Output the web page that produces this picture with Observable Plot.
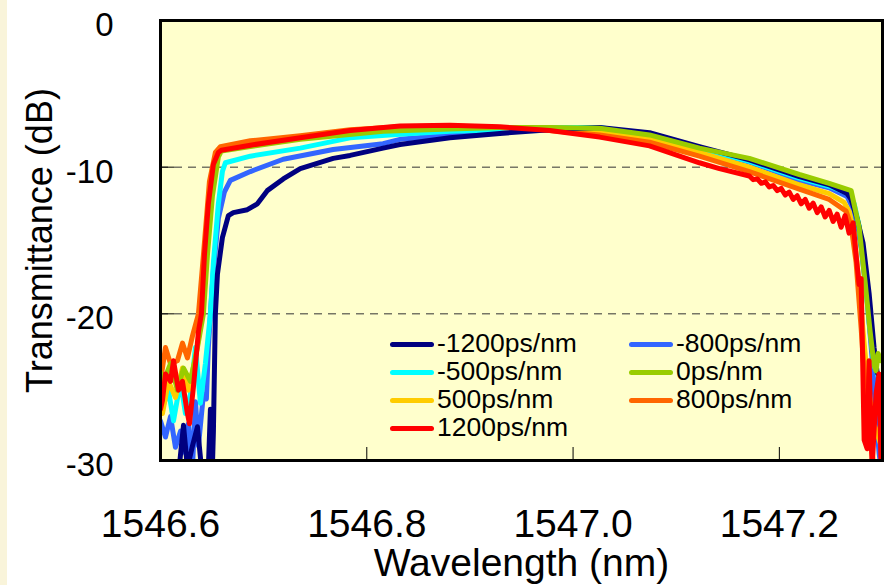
<!DOCTYPE html>
<html>
<head>
<meta charset="utf-8">
<script src="https://cdn.jsdelivr.net/npm/d3@7"></script>
<script src="https://cdn.jsdelivr.net/npm/@observablehq/plot@0.6"></script>
<style>
  html, body { margin: 0; padding: 0; background: #ffffff; }
  body { width: 884px; height: 585px; position: relative; overflow: hidden; font-family: "Liberation Sans", Arial, sans-serif; }
  #strip { position: absolute; left: 0; top: 0; width: 7px; height: 585px; background: #F9F4DA; }
  #chart { position: absolute; left: 0; top: 0; }
  .leg { position: absolute; font-size: 26.5px; line-height: 28px; color: #000; white-space: nowrap; }
  .sw { display: inline-block; width: 44px; height: 5px; border-radius: 3px; vertical-align: middle; margin-right: 3px; position: relative; top: -1px; }
</style>
</head>
<body>
<div id="strip"></div>
<div id="chart"></div>
<script>
const seriesNames = ["-1200ps/nm", "-800ps/nm", "-500ps/nm", "0ps/nm", "500ps/nm", "800ps/nm", "1200ps/nm"];
const seriesColors = ["#000080", "#3366FF", "#00FFFF", "#99CC00", "#FFCC00", "#FF6600", "#FF0000"];
const xTicks = [1546.6, 1546.8, 1547.0, 1547.2];
const yTicks = [0, -10, -20, -30];
const yGrid = [-10, -20];

// [wavelength (nm), transmittance (dB)]
const sM1200 = [[1546.6000,-31.5],[1546.6174,-31.0],[1546.6223,-27.6],[1546.6261,-30.5],[1546.6310,-29.0],[1546.6358,-27.7],[1546.6397,-30.5],[1546.6464,-30.5],[1546.6484,-26.5],[1546.6503,-30.5],[1546.6513,-28.0],[1546.6532,-20.0],[1546.6552,-17.3],[1546.6600,-14.8],[1546.6658,-13.3],[1546.6706,-13.1],[1546.6842,-12.9],[1546.6939,-12.5],[1546.7035,-11.6],[1546.7190,-10.8],[1546.7355,-10.1],[1546.7674,-9.4],[1546.7838,-9.2],[1546.8158,-8.7],[1546.8322,-8.45],[1546.8806,-8.0],[1546.9290,-7.7],[1546.9774,-7.45],[1547.0257,-7.3],[1547.0741,-7.65],[1547.1225,-8.6],[1547.1709,-9.5],[1547.2193,-10.65],[1547.2483,-11.2],[1547.2657,-11.8],[1547.2696,-12.2],[1547.2754,-13.5],[1547.2812,-15.2],[1547.2870,-18.6],[1547.2918,-22.3],[1547.2948,-24.0],[1547.2967,-24.2],[1547.2986,-25.0]];
const sM800 = [[1546.6000,-27.3],[1546.6048,-28.4],[1546.6097,-27.0],[1546.6145,-29.1],[1546.6194,-28.0],[1546.6242,-29.5],[1546.6271,-27.5],[1546.6310,-30.5],[1546.6339,-26.0],[1546.6368,-29.0],[1546.6416,-25.5],[1546.6445,-25.8],[1546.6464,-22.3],[1546.6484,-20.0],[1546.6513,-17.0],[1546.6561,-13.5],[1546.6619,-11.7],[1546.6677,-10.9],[1546.6871,-10.3],[1546.7190,-9.46],[1546.7674,-8.8],[1546.8158,-8.4],[1546.8322,-8.1],[1546.8806,-7.8],[1546.9290,-7.55],[1546.9774,-7.45],[1547.0257,-7.35],[1547.0741,-7.75],[1547.1225,-8.75],[1547.1709,-9.65],[1547.2193,-10.9],[1547.2483,-11.4],[1547.2657,-12.0],[1547.2725,-13.0],[1547.2793,-15.5],[1547.2851,-19.0],[1547.2899,-23.0],[1547.2938,-27.0],[1547.2967,-29.5],[1547.2986,-30.5]];
const sM500 = [[1546.6000,-25.8],[1546.6019,-26.4],[1546.6077,-25.2],[1546.6126,-27.3],[1546.6194,-24.6],[1546.6242,-26.8],[1546.6290,-25.5],[1546.6339,-22.3],[1546.6387,-26.1],[1546.6435,-23.4],[1546.6484,-20.0],[1546.6513,-16.5],[1546.6561,-12.5],[1546.6600,-10.3],[1546.6629,-9.7],[1546.6871,-9.25],[1546.7355,-8.7],[1546.7838,-8.0],[1546.8322,-7.75],[1546.8806,-7.55],[1546.9290,-7.45],[1546.9774,-7.3],[1547.0257,-7.3],[1547.0741,-7.8],[1547.1225,-8.75],[1547.1709,-9.6],[1547.2193,-10.75],[1547.2483,-11.3],[1547.2676,-11.8],[1547.2725,-12.5],[1547.2773,-14.0],[1547.2822,-17.0],[1547.2870,-20.5],[1547.2918,-23.5],[1547.2957,-24.2],[1547.2986,-25.0]];
const s0 = [[1546.6000,-24.0],[1546.6019,-24.8],[1546.6097,-23.4],[1546.6164,-25.2],[1546.6223,-23.7],[1546.6290,-24.6],[1546.6358,-22.3],[1546.6416,-20.0],[1546.6455,-16.0],[1546.6503,-12.0],[1546.6561,-9.3],[1546.6590,-8.9],[1546.6871,-8.6],[1546.7355,-8.1],[1546.8158,-7.55],[1546.8806,-7.4],[1546.9290,-7.3],[1546.9774,-7.3],[1547.0257,-7.35],[1547.0741,-7.8],[1547.1225,-8.7],[1547.1709,-9.4],[1547.2193,-10.5],[1547.2483,-11.1],[1547.2696,-11.6],[1547.2773,-14.1],[1547.2831,-17.8],[1547.2880,-21.2],[1547.2918,-23.5],[1547.2938,-23.9],[1547.2957,-22.7],[1547.2986,-23.2]];
const sP500 = [[1546.6000,-25.5],[1546.6019,-26.8],[1546.6077,-24.6],[1546.6145,-25.7],[1546.6213,-23.7],[1546.6271,-25.2],[1546.6339,-23.0],[1546.6406,-20.0],[1546.6445,-15.0],[1546.6503,-10.5],[1546.6561,-8.9],[1546.6590,-8.7],[1546.6871,-8.3],[1546.7355,-7.9],[1546.7838,-7.5],[1546.8322,-7.35],[1546.8806,-7.25],[1546.9290,-7.3],[1546.9774,-7.4],[1547.0257,-7.6],[1547.0741,-8.1],[1547.1225,-9.0],[1547.1709,-10.0],[1547.2193,-11.2],[1547.2483,-11.8],[1547.2628,-12.4],[1547.2676,-13.0],[1547.2725,-14.5],[1547.2773,-18.0],[1547.2822,-22.0],[1547.2870,-25.5],[1547.2918,-27.5],[1547.2986,-29.0]];
const sP800 = [[1546.6000,-24.5],[1546.6019,-23.7],[1546.6048,-22.3],[1546.6097,-23.4],[1546.6164,-23.2],[1546.6213,-22.0],[1546.6261,-23.0],[1546.6310,-21.5],[1546.6368,-20.0],[1546.6416,-16.0],[1546.6474,-11.0],[1546.6532,-9.0],[1546.6581,-8.6],[1546.6871,-8.2],[1546.7355,-7.85],[1546.7838,-7.45],[1546.8322,-7.25],[1546.8806,-7.2],[1546.9290,-7.3],[1546.9774,-7.5],[1547.0257,-7.8],[1547.0741,-8.3],[1547.1225,-9.25],[1547.1709,-10.3],[1547.2193,-11.5],[1547.2483,-12.2],[1547.2647,-13.0],[1547.2696,-14.0],[1547.2744,-16.5],[1547.2793,-21.0],[1547.2831,-25.0],[1547.2870,-28.0],[1547.2918,-30.5]];
const sP1200 = [[1546.6000,-26.5],[1546.6019,-25.9],[1546.6048,-24.1],[1546.6097,-24.6],[1546.6126,-23.2],[1546.6174,-25.2],[1546.6213,-24.6],[1546.6261,-26.8],[1546.6281,-27.5],[1546.6319,-25.0],[1546.6368,-21.2],[1546.6397,-20.0],[1546.6426,-16.0],[1546.6464,-12.5],[1546.6513,-9.8],[1546.6561,-9.0],[1546.6590,-8.85],[1546.6871,-8.5],[1546.7355,-8.0],[1546.7838,-7.5],[1546.8322,-7.2],[1546.8806,-7.14],[1546.9290,-7.25],[1546.9774,-7.5],[1547.0257,-7.95],[1547.0741,-8.55],[1547.1225,-9.7],[1547.1419,-10.1],[1547.1709,-10.6],[1547.1747,-10.85],[1547.1786,-10.8],[1547.1825,-11.1],[1547.1864,-11.0],[1547.1902,-11.35],[1547.1941,-11.25],[1547.1980,-11.6],[1547.2018,-11.45],[1547.2057,-11.9],[1547.2096,-11.7],[1547.2134,-12.2],[1547.2173,-11.95],[1547.2212,-12.5],[1547.2251,-12.2],[1547.2289,-12.8],[1547.2328,-12.45],[1547.2367,-13.1],[1547.2405,-12.7],[1547.2444,-13.4],[1547.2483,-12.95],[1547.2521,-13.7],[1547.2560,-13.2],[1547.2599,-14.1],[1547.2637,-13.3],[1547.2676,-14.5],[1547.2715,-13.8],[1547.2744,-16.0],[1547.2773,-18.0],[1547.2793,-17.6],[1547.2822,-28.6],[1547.2851,-29.2],[1547.2870,-23.2],[1547.2899,-30.5],[1547.2938,-25.4],[1547.2967,-24.1],[1547.2986,-30.5]];

const seriesData = [sM1200, sM800, sM500, s0, sP500, sP800, sP1200];
// drawing order (last on top)
const drawOrder = [1, 2, 4, 5, 0, 3, 6];

const lineMarks = drawOrder.map(i =>
  Plot.line(seriesData[i].map(([w, t]) => ({w, t})), {
    x: "w", y: "t", stroke: seriesColors[i], strokeWidth: 5,
    strokeLinejoin: "round", strokeLinecap: "round", clip: true
  })
);

const chart = Plot.plot({
  width: 884,
  height: 585,
  marginLeft: 160,
  marginRight: 2,
  marginTop: 20,
  marginBottom: 125,
  style: { fontFamily: "'Liberation Sans', Arial, sans-serif", background: "transparent", color: "#000" },
  x: { domain: [1546.6, 1547.3] },
  y: { domain: [-30, 0] },
  marks: [
    Plot.frame({ fill: "#FFFFCC", stroke: null }),
    Plot.ruleY(yGrid, { stroke: "#333", strokeWidth: 1, strokeDasharray: "8,6" }),
    Plot.tickY(yGrid, { stroke: "#000", strokeWidth: 1, insetRight: 708 }),
    Plot.tickX(xTicks.slice(1), { stroke: "#000", strokeWidth: 1, insetTop: 427 }),
    ...lineMarks,
    Plot.frame({ stroke: "#000", strokeWidth: 3 }),
    Plot.axisY(yTicks, { tickSize: 0, tickPadding: 47, fontSize: 33, dy: 5, tickFormat: d => String(d), label: null }),
    Plot.axisX(xTicks, { tickSize: 0, tickPadding: 49, fontSize: 39, tickFormat: d3.format(".1f"), label: null }),
    Plot.text(["Wavelength (nm)"], { frameAnchor: "bottom", dy: 103, lineAnchor: "middle", textAnchor: "middle", fontSize: 39 }),
    Plot.text(["Transmittance (dB)"], { frameAnchor: "left", dx: -120, rotate: -90, lineAnchor: "middle", textAnchor: "middle", fontSize: 36 })
  ]
});
document.getElementById("chart").appendChild(chart);

// legend
seriesNames.forEach((name, i) => {
  const col = i % 2, row = Math.floor(i / 2);
  const d = document.createElement("div");
  d.className = "leg";
  d.style.left = (390 + col * 239) + "px";
  d.style.top = (329 + row * 28) + "px";
  const sw = document.createElement("span");
  sw.className = "sw";
  sw.style.background = seriesColors[i];
  d.appendChild(sw);
  d.appendChild(document.createTextNode(name));
  document.body.appendChild(d);
});
</script>
</body>
</html>
